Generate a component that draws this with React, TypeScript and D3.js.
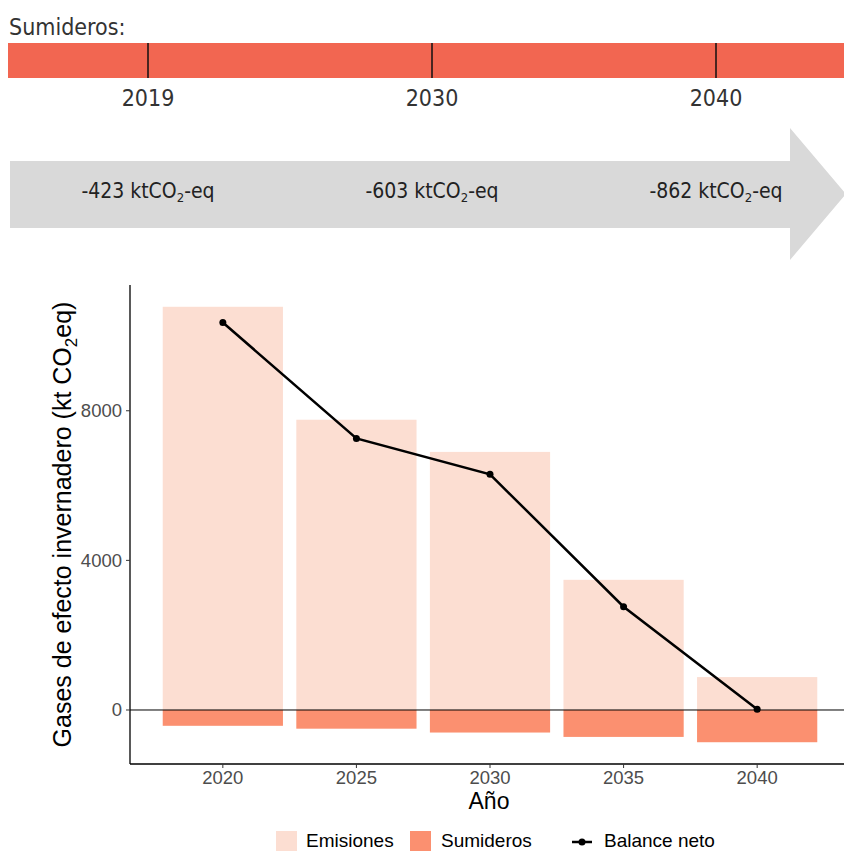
import * as React from "react";
import * as d3 from "d3";

// datos del gráfico
const years = [2020, 2025, 2030, 2035, 2040];
const emisiones = [10780, 7760, 6900, 3480, 880];
const sumideros = [-423, -500, -603, -720, -862];
const balanceNeto = [10360, 7260, 6300, 2760, 20];
const yTicks = [0, 4000, 8000];

// línea de tiempo de sumideros
const timelineYears = ["2019", "2030", "2040"];
const timelineValues = [-423, -603, -862];

const width = 844;
const height = 851;

const colEmis = "#FCDED2";
const colSum = "#FB9070";
const axisGrey = "#4D4D4D";
const chartFont = "'Liberation Sans', Arial, sans-serif";
const narrowFont = "'Liberation Sans Narrow', 'DejaVu Sans Condensed', sans-serif";

function Timeline() {
	const xs = d3.scalePoint<string>().domain(timelineYears).range([148, 716]);
	const arrowPath = "M10,161 H790 V128 L846,194 L790,260 V228 H10 Z";
	return (
		<g fontFamily={narrowFont}>
			<text x={9} y={35} fontSize={23} fill="#333">
				Sumideros:
			</text>
			<rect x={8} y={43} width={width - 8} height={35} fill="#F26651" />
			{timelineYears.map((yr) => (
				<g key={yr}>
					<line x1={xs(yr)} x2={xs(yr)} y1={43} y2={78} stroke="#111" strokeWidth={1.5} />
					<text x={xs(yr)} y={106} textAnchor="middle" fontSize={23} fill="#333">
						{yr}
					</text>
				</g>
			))}
			<path d={arrowPath} fill="#D9D9D9" />
			{timelineYears.map((yr, i) => (
				<text key={"v" + yr} x={xs(yr)} y={198} textAnchor="middle" fontSize={21} fill="#222">
					{timelineValues[i]} ktCO
					<tspan dy={4} fontSize={13}>2</tspan>
					<tspan dy={-4}>-eq</tspan>
				</text>
			))}
		</g>
	);
}

function Chart() {
	const barW = 4.5;
	const xMin = 2020 - barW / 2;
	const xMax = 2040 + barW / 2;
	const xPad = (xMax - xMin) * 0.05;
	const x = d3.scaleLinear().domain([xMin - xPad, xMax + xPad]).range([130, 850]);

	const lo = d3.min(sumideros)!;
	const hi = d3.max(emisiones)!;
	const yPad = (hi - lo) * 0.05;
	const y = d3.scaleLinear().domain([lo - yPad, hi + yPad]).range([764, 285]);

	const line = d3
		.line<number>()
		.x((_, i) => x(years[i]))
		.y((d) => y(d));

	const bw = x(barW) - x(0);

	return (
		<g fontFamily={chartFont}>
			{years.map((yr, i) => (
				<g key={yr}>
					<rect x={x(yr) - bw / 2} y={y(emisiones[i])} width={bw} height={y(0) - y(emisiones[i])} fill={colEmis} />
					<rect x={x(yr) - bw / 2} y={y(0)} width={bw} height={y(sumideros[i]) - y(0)} fill={colSum} />
				</g>
			))}
			<line x1={130} x2={width} y1={y(0)} y2={y(0)} stroke="#000" strokeWidth={1} />
			<path d={line(balanceNeto) ?? ""} fill="none" stroke="#000" strokeWidth={2.5} />
			{balanceNeto.map((v, i) => (
				<circle key={i} cx={x(years[i])} cy={y(v)} r={3.5} fill="#000" />
			))}

			{/* ejes */}
			<line x1={130} x2={130} y1={285} y2={764} stroke="#000" strokeWidth={1.3} />
			<line x1={130} x2={width} y1={764} y2={764} stroke="#000" strokeWidth={1.3} />
			{yTicks.map((t) => (
				<g key={t}>
					<line x1={126} x2={130} y1={y(t)} y2={y(t)} stroke="#333" />
					<text x={122} y={y(t)} dy="0.35em" textAnchor="end" fontSize={18.5} fill={axisGrey}>
						{t}
					</text>
				</g>
			))}
			{years.map((yr) => (
				<g key={"t" + yr}>
					<line x1={x(yr)} x2={x(yr)} y1={764} y2={768} stroke="#333" />
					<text x={x(yr)} y={784} textAnchor="middle" fontSize={18.5} fill={axisGrey}>
						{yr}
					</text>
				</g>
			))}
			<text x={489} y={809} textAnchor="middle" fontSize={23} fill="#000">
				Año
			</text>
			<text
				transform={`translate(71 ${(285 + 764) / 2}) rotate(-90)`}
				textAnchor="middle"
				fontSize={25}
				fill="#000"
			>
				Gases de efecto invernadero (kt CO
				<tspan dy={6} fontSize={17}>2</tspan>
				<tspan dy={-6}>eq)</tspan>
			</text>

			{/* leyenda */}
			<g fontSize={19} fill="#000">
				<rect x={276} y={831} width={21} height={20} fill={colEmis} />
				<text x={306} y={847}>Emisiones</text>
				<rect x={410} y={831} width={21} height={20} fill={colSum} />
				<text x={441} y={847}>Sumideros</text>
				<line x1={572} x2={592} y1={842} y2={842} stroke="#000" strokeWidth={2.5} />
				<circle cx={582} cy={842} r={3.5} fill="#000" />
				<text x={604} y={847}>Balance neto</text>
			</g>
		</g>
	);
}

export default function App() {
	return (
		<svg
			width={width}
			height={height}
			style={{ position: "absolute", left: 0, top: 0, background: "#fff" }}
		>
			<Timeline />
			<Chart />
		</svg>
	);
}
